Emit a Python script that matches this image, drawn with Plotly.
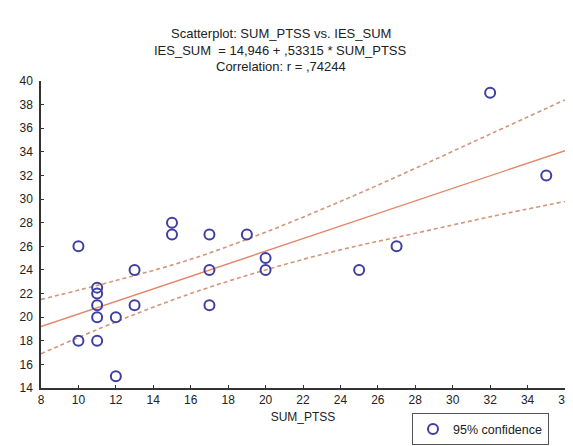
import plotly.graph_objects as go

# Data
sum_ptss = [10, 10, 11, 11, 11, 11, 11, 12, 12, 13, 13, 15, 15, 17, 17, 17, 19, 20, 20, 25, 27, 32, 35]
ies_sum = [26, 18, 22.5, 22, 21, 20, 18, 20, 15, 24, 21, 28, 27, 27, 24, 21, 27, 25, 24, 24, 26, 39, 32]

# Regression line (IES_SUM = 14,946 + ,53315 * SUM_PTSS), read at the axis ends
fit_x = [8, 36]
fit_y = [19.2, 34.1]

# 95% confidence band
band_x = [8, 12, 16, 20, 24, 28, 32, 36]
band_upper = [21.5, 23.1, 24.9, 27.2, 29.8, 32.6, 35.5, 38.4]
band_lower = [16.9, 19.6, 22.0, 24.0, 25.7, 27.1, 28.5, 29.8]

title_lines = ["Scatterplot: SUM_PTSS vs. IES_SUM",
               "IES_SUM  = 14,946 + ,53315 * SUM_PTSS",
               "Correlation: r = ,74244"]

x_ticks = list(range(8, 37, 2))
y_ticks = list(range(14, 41, 2))

line_col = "#e5876a"
band_col = "#d4957a"
mark_col = "#3f3f9f"
font_fam = "Liberation Sans, Arial, sans-serif"

fig = go.Figure()
fig.add_trace(go.Scatter(x=band_x, y=band_upper, mode="lines", line=dict(color=band_col, width=1.6, dash="4px,3px", shape="spline"), showlegend=False, hoverinfo="skip"))
fig.add_trace(go.Scatter(x=band_x, y=band_lower, mode="lines", line=dict(color=band_col, width=1.6, dash="4px,3px", shape="spline"), showlegend=False, hoverinfo="skip"))
fig.add_trace(go.Scatter(x=fit_x, y=fit_y, mode="lines", line=dict(color=line_col, width=1.4), showlegend=False))
fig.add_trace(go.Scatter(x=sum_ptss, y=ies_sum, mode="markers", name="95% confidence",
                         marker=dict(symbol="circle-open", size=10, color=mark_col, line=dict(width=2, color=mark_col))))

plot_h = 327.0
title_px = [22, 40, 58]
for t, py in zip(title_lines, title_px):
    fig.add_annotation(text=t, xref="paper", yref="paper", x=0.458, y=(400 - py) / plot_h,
                       xanchor="center", yanchor="middle", showarrow=False,
                       font=dict(family=font_fam, size=13, color="#222222"))

fig.update_layout(
    width=573, height=446,
    margin=dict(l=33, r=9, t=73, b=46),
    paper_bgcolor="white", plot_bgcolor="white",
    font=dict(family=font_fam, size=12, color="#222222"),
    showlegend=True,
    legend=dict(x=0.708, y=-0.083, xanchor="left", yanchor="top",
                bordercolor="#555555", borderwidth=1, bgcolor="white",
                font=dict(family=font_fam, size=12.5, color="#222222"),
                itemwidth=30, tracegroupgap=0, entrywidth=135),
)
fig.update_xaxes(range=[8, 36], tickvals=x_ticks, ticktext=[str(v) for v in x_ticks],
                 showgrid=False, zeroline=False, showline=True, linecolor="#333333", linewidth=1.5,
                 ticks="inside", ticklen=3, tickcolor="#333333", ticklabeloverflow="allow",
                 title=dict(text="SUM_PTSS", standoff=6, font=dict(size=12)))
fig.update_yaxes(range=[14, 40], tickvals=y_ticks, ticktext=[str(v) for v in y_ticks],
                 showgrid=False, zeroline=False, showline=True, linecolor="#333333", linewidth=1.5,
                 ticks="inside", ticklen=3, tickcolor="#333333", ticklabelstandoff=4)

fig.write_html("out.html")
